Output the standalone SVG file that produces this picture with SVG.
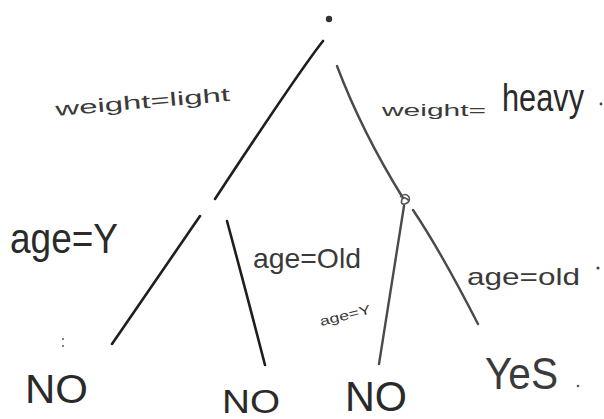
<svg xmlns="http://www.w3.org/2000/svg" width="604" height="419" viewBox="0 0 604 419">
  <style>
    .t { font-family: "Liberation Sans", "DejaVu Sans", sans-serif; fill: #2a2a2a; }
    .lbl { font-family: "Liberation Sans", "DejaVu Sans", sans-serif; fill: #3a3a3a; }
    .edge { fill: none; stroke: #1e1e1e; stroke-width: 2.6; stroke-linecap: round; }
    .edge2 { fill: none; stroke: #4a4a4a; stroke-width: 2.4; stroke-linecap: round; }
    .dot { fill: #444; }
  </style>
  <rect width="604" height="419" fill="#ffffff"/>

  <g id="connectors">
    <path class="edge" d="M323,41 Q300,70 215,199"/>
    <path class="edge2" d="M337,66 Q362,132 403,198"/>
    <path class="edge" d="M200,216 L112,344"/>
    <path class="edge" d="M227,221 Q247,295 265,365"/>
    <path class="edge2" d="M404,206 Q392,280 379,364"/>
    <path class="edge2" d="M413,210 Q440,250 478,324"/>
  </g>

  <g id="root">
    <circle cx="329" cy="19" r="3.2" fill="#333"/>
  </g>

  <g id="node-weight-heavy">
    <path d="M400,197 q6,-5 9,0 q2,5 -4,7 q-5,1 -3,-5 q3,-3 7,2" fill="none" stroke="#555" stroke-width="1.6"/>
  </g>

  <g id="label-weight-light">
    <text class="lbl" x="56" y="116" font-size="19" textLength="175" lengthAdjust="spacingAndGlyphs" transform="rotate(-5 56 116)">weight=light</text>
  </g>

  <g id="label-weight-heavy">
    <text class="lbl" x="382" y="116" font-size="17" textLength="104" lengthAdjust="spacingAndGlyphs">weight=</text>
    <text class="t" x="502" y="111" font-size="38" textLength="82" lengthAdjust="spacingAndGlyphs">heavy</text>
    <circle class="dot" cx="601" cy="104" r="1.4"/>
  </g>

  <g id="label-age-y-left">
    <text class="t" x="10" y="253" font-size="42" textLength="108" lengthAdjust="spacingAndGlyphs">age=Y</text>
  </g>

  <g id="label-age-old-left">
    <text class="lbl" x="253" y="268" font-size="28" textLength="108" lengthAdjust="spacingAndGlyphs">age=Old</text>
  </g>

  <g id="label-age-y-right">
    <text class="lbl" x="321" y="326" font-size="13" textLength="52" lengthAdjust="spacingAndGlyphs" transform="rotate(-14 321 326)">age=Y</text>
  </g>

  <g id="label-age-old-right">
    <text class="lbl" x="467" y="285" font-size="24" textLength="113" lengthAdjust="spacingAndGlyphs">age=old</text>
    <circle class="dot" cx="598" cy="268" r="1.6"/>
  </g>

  <g id="mark">
    <circle cx="63" cy="339" r="1.1" fill="#666"/>
    <circle cx="63" cy="346" r="1.1" fill="#666"/>
  </g>

  <g id="leaf-no-1">
    <text class="t" x="25" y="403" font-size="40" textLength="63" lengthAdjust="spacingAndGlyphs">NO</text>
  </g>
  <g id="leaf-no-2">
    <text class="t" x="222" y="413" font-size="34" textLength="58" lengthAdjust="spacingAndGlyphs">NO</text>
  </g>
  <g id="leaf-no-3">
    <text class="t" x="345" y="411" font-size="42" textLength="62" lengthAdjust="spacingAndGlyphs">NO</text>
  </g>
  <g id="leaf-yes">
    <text class="lbl" x="485" y="389" font-size="44" textLength="73" lengthAdjust="spacingAndGlyphs">YeS</text>
    <circle cx="578" cy="386" r="1.3" fill="#555"/>
  </g>
</svg>
